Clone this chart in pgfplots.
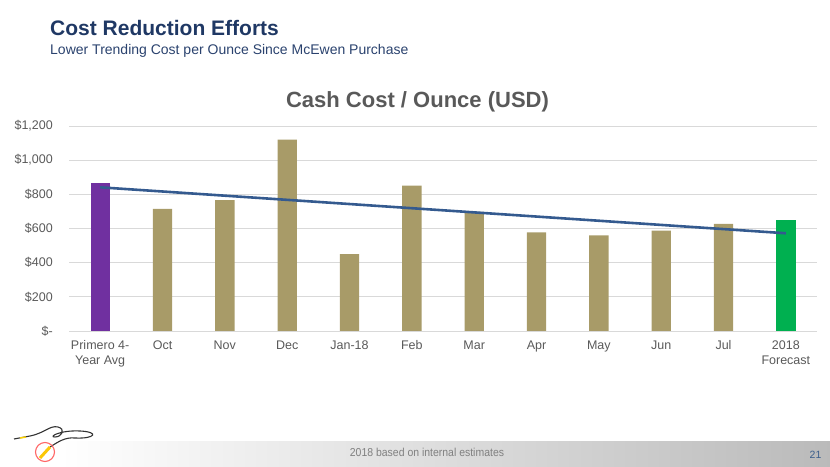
\documentclass[border=0pt]{standalone}
\usepackage{pgfplots}
\pgfplotsset{compat=1.18}
\usepackage{fontspec}
\setmainfont{Liberation Sans}
\definecolor{navy}{RGB}{31,56,100}
\definecolor{subnavy}{RGB}{42,66,110}
\definecolor{txtgray}{RGB}{89,89,89}
\definecolor{gridgray}{RGB}{217,217,217}
\definecolor{tan}{RGB}{168,155,104}
\definecolor{purp}{RGB}{112,48,160}
\definecolor{grn}{RGB}{0,176,80}
\definecolor{trend}{RGB}{52,90,143}
\definecolor{pagenum}{RGB}{60,95,140}
\begin{document}
\begin{tikzpicture}[x=1bp,y=1bp]
\useasboundingbox (0,0) rectangle (830,467);
% footer band
\shade[left color=white, right color=black!27] (60,0) rectangle (830,25);
\node[anchor=base, inner sep=0pt, text=black!50, font=\fontsize{11.5bp}{13bp}\selectfont, xscale=0.91] at (427,10.3) {2018 based on internal estimates};
\node[anchor=base, inner sep=0pt, text=pagenum, font=\fontsize{10.5bp}{13bp}\selectfont] at (815.5,8) {21};
% logo (approximate)
\draw[black!80, line width=1.1bp] (14,28) -- (30,31) .. controls (45,34) and (50,42) .. (58,40) .. controls (66,38) and (62,30) .. (55,30) .. controls (48,30) and (60,37) .. (80,36) .. controls (100,35) and (95,28) .. (75,29) .. controls (65,30) and (58,25) .. (50,20);
\draw[yellow!70!orange, line width=1.5bp] (20,29) -- (26,30);
\draw[red!60, line width=1.1bp] (45,15) circle (9.5);
\draw[yellow!60!orange, line width=3bp] (40,9) -- (50,20);
% titles
\node[anchor=base west, inner sep=0pt, text=navy, font=\fontsize{21bp}{25bp}\selectfont\bfseries] at (50,431) {Cost Reduction Efforts};
\node[anchor=base west, inner sep=0pt, text=subnavy, font=\fontsize{14bp}{17bp}\selectfont] at (50,412.7) {Lower Trending Cost per Ounce Since McEwen Purchase};
\node[anchor=base, inner sep=0pt, text=txtgray, font=\fontsize{22bp}{26bp}\selectfont\bfseries] at (417.5,359.7) {Cash Cost / Ounce (USD)};
\begin{axis}[
  at={(69bp,136bp)}, anchor=south west,
  scale only axis, width=748bp, height=205bp,
  xmin=-0.5, xmax=11.5, ymin=0, ymax=1200,
  axis line style={draw=none},
  major tick length=0pt,
  ymajorgrids, major grid style={gridgray, line width=0.9bp},
  ytick={0,200,400,600,800,1000,1200},
  yticklabels={\$-,\$200,\$400,\$600,\$800,{\$1,000},{\$1,200}},
  xtick={0,1,2,3,4,5,6,7,8,9,10,11},
  xticklabels={{\strut Primero 4-\\Year Avg},\strut Oct,\strut Nov,\strut Dec,\strut Jan-18,\strut Feb,\strut Mar,\strut Apr,\strut May,\strut Jun,\strut Jul,{\strut 2018\\Forecast}},
  tick label style={text=txtgray, font=\fontsize{12.5bp}{15bp}\selectfont},
  yticklabel style={inner sep=0pt, xshift=-16bp},
  xticklabel style={anchor=north, align=center, inner sep=0pt, yshift=-7.5bp},
  /pgf/number format/assume math mode=true,
  clip=false,
]
\addplot[ybar, bar width=0.31, fill=purp, draw=none] coordinates {(0,869)};
\addplot[ybar, bar width=0.31, fill=tan, draw=none] coordinates {(1,715) (2,766) (3,1120) (4,450) (5,851) (6,697) (7,577) (8,559) (9,588) (10,627)};
\addplot[ybar, bar width=0.31, fill=grn, draw=none] coordinates {(11,647)};
\addplot[sharp plot, no marks, trend, line width=2.6bp] coordinates {(0,841) (11,572)};
\end{axis}
\end{tikzpicture}
\end{document}
